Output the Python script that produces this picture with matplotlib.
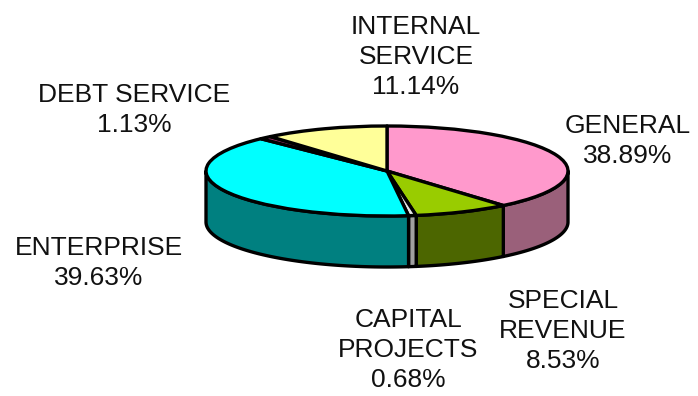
import numpy as np
import matplotlib
matplotlib.use("Agg")
import matplotlib.pyplot as plt
from matplotlib.patches import Polygon

plt.rcParams['font.family'] = ['Liberation Sans', 'DejaVu Sans']

categories = ["GENERAL", "SPECIAL\nREVENUE", "CAPITAL\nPROJECTS", "ENTERPRISE",
              "DEBT SERVICE", "INTERNAL\nSERVICE"]
values = [38.89, 8.53, 0.68, 39.63, 1.13, 11.14]
top_colors = ["#FF99CC", "#99CC00", "#E6E6E6", "#00FFFF", "#993366", "#FFFF99"]
side_colors = ["#9A607A", "#4C6600", "#A0A0A0", "#008080", "#66203F", "#999966"]
# label block centres in pixels (x, y from top)
label_pos = [(628, 141), (563, 331), (408, 350), (99, 263), (134, 110), (416, 57)]

W, H = 698, 396
fig = plt.figure(figsize=(W / 100, H / 100), dpi=100)

# pie geometry in pixels
cx, cy, rx, ry, depth_px = 387, 171, 181, 45, 51
depth = depth_px / ry
xl = (-1.2, 1.2)
yl = (-2.4, 1.3)
left = (cx + xl[0] * rx) / W
width = (xl[1] - xl[0]) * rx / W
bottom = 1 - (cy - yl[0] * ry) / H
height = (yl[1] - yl[0]) * ry / H
ax = fig.add_axes([left, bottom, width, height])

wedges, _ = ax.pie(values, startangle=90, counterclock=False, colors=top_colors,
                   wedgeprops=dict(edgecolor="black", linewidth=2.4, joinstyle="round"))
for w in wedges:
    w.set_zorder(3)
ax.set_aspect("auto")
ax.set_xlim(*xl)
ax.set_ylim(*yl)
ax.axis("off")

# side walls for front half
total = sum(values)
cum = np.cumsum([0] + values) / total
for i in range(len(values)):
    t_hi = 90 - cum[i] * 360
    t_lo = 90 - cum[i + 1] * 360
    a = max(t_lo, -180)
    b = min(t_hi, 0)
    if a >= b:
        continue
    t = np.radians(np.linspace(a, b, 100))
    xs = np.cos(t)
    ys = np.sin(t)
    pts = np.concatenate([np.column_stack([xs, ys]),
                          np.column_stack([xs[::-1], ys[::-1] - depth])])
    ax.add_patch(Polygon(pts, closed=True, facecolor=side_colors[i],
                         edgecolor="black", linewidth=2.4, joinstyle="round", zorder=2))

for i, cat in enumerate(categories):
    x, y = label_pos[i]
    fig.text(x / W, 1 - y / H, f"{cat}\n{values[i]:.2f}%", ha="center", va="center",
             fontsize=19, linespacing=1.3, color="#111111")

fig.savefig("out.png", dpi=100)
